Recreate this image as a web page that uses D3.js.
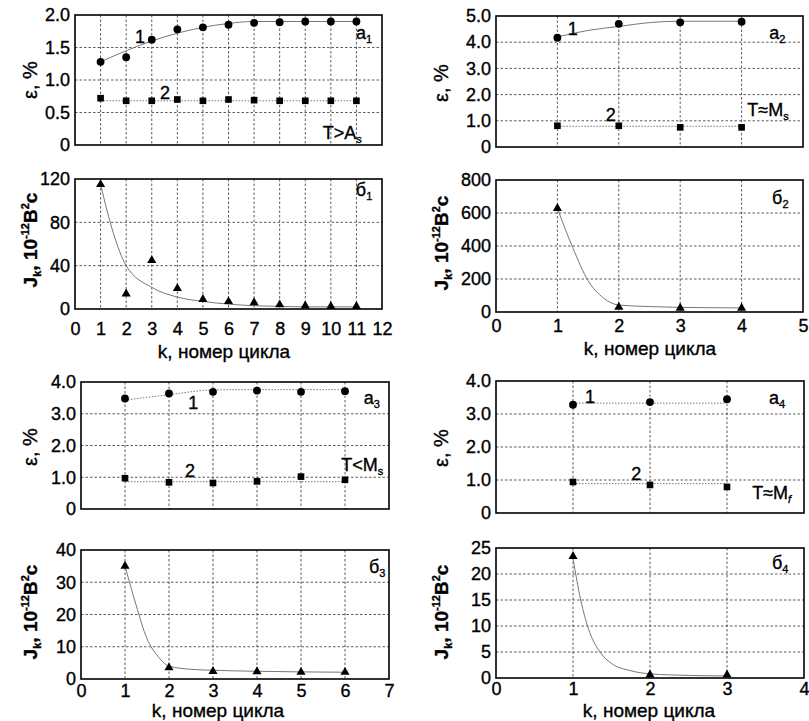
<!DOCTYPE html>
<html>
<head>
<meta charset="utf-8">
<script src="https://cdn.jsdelivr.net/npm/d3@7"></script>
<style>
  body { margin: 0; background: #fff; }
  svg { display: block; }
  text { font-family: "Liberation Sans", Arial, sans-serif; fill: #000; stroke: #000; stroke-width: 0.35px; }
</style>
</head>
<body>
<svg id="chart" width="809" height="721"></svg>
<script>
// ---- panel 1 : T > As ----
const cycles1 = [1, 2, 3, 4, 5, 6, 7, 8, 9, 10, 11];
const eps1Circ = [1.28, 1.35, 1.62, 1.78, 1.81, 1.85, 1.88, 1.89, 1.90, 1.90, 1.90];
const eps1Sq = [0.72, 0.68, 0.68, 0.70, 0.68, 0.70, 0.69, 0.68, 0.68, 0.68, 0.68];
const j1 = [115, 14, 45, 19, 9, 7, 6, 4, 3, 2.5, 2.5];
const fit1CircK = [1, 2, 3, 4, 5, 6, 7, 8, 9, 10, 11];
const fit1CircV = [1.28, 1.45, 1.6, 1.72, 1.81, 1.87, 1.9, 1.9, 1.9, 1.9, 1.9];
const fit1SqK = [1, 11];
const fit1SqV = [0.68, 0.68];
const fit1JK = [1, 1.5, 2, 3, 4, 5, 6, 7, 8, 9, 10, 11];
const fit1JV = [115, 70, 40, 20, 11, 7, 4.5, 3, 2.5, 2, 2, 2];

// ---- panel 2 : T ≈ Ms ----
const cycles2 = [1, 2, 3, 4];
const eps2Circ = [4.17, 4.70, 4.76, 4.78];
const eps2Sq = [0.81, 0.81, 0.75, 0.75];
const j2 = [628, 30, 24, 24];
const fit2CircK = [1, 1.5, 2, 2.5, 3, 4];
const fit2CircV = [4.2, 4.45, 4.6, 4.75, 4.8, 4.8];
const fit2SqK = [1, 4];
const fit2SqV = [0.79, 0.79];
const fit2JK = [1, 1.25, 1.5, 1.75, 2, 2.5, 3, 4];
const fit2JV = [628, 390, 190, 85, 42, 33, 28, 25];

// ---- panel 3 : T < Ms ----
const cycles3 = [1, 2, 3, 4, 5, 6];
const eps3Circ = [3.48, 3.64, 3.69, 3.73, 3.69, 3.71];
const eps3Sq = [0.97, 0.84, 0.82, 0.87, 1.02, 0.92];
const j3 = [35, 3.5, 2.4, 2.3, 2.1, 2.1];
const fit3CircK = [1, 2, 3, 4, 5, 6];
const fit3CircV = [3.43, 3.6, 3.75, 3.76, 3.76, 3.76];
const fit3SqK = [1, 6];
const fit3SqV = [0.86, 0.86];
const fit3JK = [1, 1.25, 1.5, 1.75, 2, 2.5, 3, 4, 5, 6];
const fit3JV = [35, 23, 12.5, 7, 4, 3, 2.7, 2.4, 2.2, 2.1];

// ---- panel 4 : T ≈ Mf ----
const cycles4 = [1, 2, 3];
const eps4Circ = [3.28, 3.36, 3.45];
const eps4Sq = [0.94, 0.85, 0.79];
const j4 = [23.4, 0.6, 0.6];
const fit4CircK = [1, 3];
const fit4CircV = [3.33, 3.33];
const fit4SqK = [1, 3];
const fit4SqV = [0.89, 0.89];
const fit4JK = [1, 1.1, 1.2, 1.35, 1.5, 1.75, 2, 2.5, 3];
const fit4JV = [23, 15, 9.5, 5, 2.8, 1.4, 0.8, 0.5, 0.4];

// tick labels
const epsTicks1 = [0, 0.5, 1, 1.5, 2];
const epsTicks2 = [0, 1, 2, 3, 4, 5];
const epsTicks34 = [0, 1, 2, 3, 4];
const jTicks1 = [0, 40, 80, 120];
const jTicks2 = [0, 200, 400, 600, 800];
const jTicks3 = [0, 10, 20, 30, 40];
const jTicks4 = [0, 5, 10, 15, 20, 25];

const svg = d3.select("#chart");
const zip = (a, b) => a.map((d, i) => [d, b[i]]);
const epsFmt = d => d === 0 ? "0" : d3.format(".1f")(d);

function frame(cfg) {
  const g = svg.append("g");
  const x = d3.scaleLinear().domain(cfg.xDomain).range([cfg.left, cfg.right]);
  const y = d3.scaleLinear().domain(cfg.yDomain).range([cfg.bottom, cfg.top]);

  const xGrid = d3.range(cfg.xDomain[0] + 1, cfg.xDomain[1]);
  const yGrid = cfg.yTicks.slice(1, -1);

  g.append("g").selectAll("line").data(xGrid).join("line")
    .attr("x1", d => x(d)).attr("x2", d => x(d))
    .attr("y1", cfg.top).attr("y2", cfg.bottom)
    .attr("stroke", "#333").attr("stroke-width", 0.8).attr("stroke-dasharray", "2.5,2");
  g.append("g").selectAll("line").data(yGrid).join("line")
    .attr("x1", cfg.left).attr("x2", cfg.right)
    .attr("y1", d => y(d)).attr("y2", d => y(d))
    .attr("stroke", "#333").attr("stroke-width", 0.8).attr("stroke-dasharray", "2.5,2");

  // y tick labels
  const ay = g.append("g").attr("transform", `translate(${cfg.left - 2},0)`)
    .call(d3.axisLeft(y).tickValues(cfg.yTicks).tickSize(0).tickFormat(cfg.yFmt));
  ay.select(".domain").remove();
  ay.selectAll("text").attr("font-size", 18).attr("font-family", "Liberation Sans, Arial, sans-serif");

  if (cfg.xBase) {
    // x tick labels, baseline placed at cfg.xBase
    const ax = g.append("g").attr("transform", `translate(0,${cfg.xBase})`)
      .call(d3.axisBottom(x).tickValues(d3.range(cfg.xDomain[0], cfg.xDomain[1] + 1)).tickSize(0).tickFormat(d3.format("d")));
    ax.select(".domain").remove();
    ax.selectAll("text").attr("y", 0).attr("dy", 0)
      .attr("font-size", 18).attr("font-family", "Liberation Sans, Arial, sans-serif");
  }

  g.append("rect")
    .attr("x", cfg.left).attr("y", cfg.top)
    .attr("width", cfg.right - cfg.left).attr("height", cfg.bottom - cfg.top)
    .attr("fill", "none").attr("stroke", "#000").attr("stroke-width", 1.6);
  return { g, x, y };
}

function fitLine(p, ks, vs, dotted) {
  p.g.append("path")
    .datum(zip(ks, vs))
    .attr("fill", "none")
    .attr("stroke", "#777")
    .attr("stroke-width", 1)
    .attr("stroke-dasharray", dotted ? "1.5,1.5" : null)
    .attr("d", d3.line().x(d => p.x(d[0])).y(d => p.y(d[1])).curve(d3.curveMonotoneX));
}

function markers(p, ks, vs, type, size) {
  p.g.append("g").selectAll("path").data(zip(ks, vs)).join("path")
    .attr("transform", d => `translate(${p.x(d[0])},${p.y(d[1])})`)
    .attr("d", d3.symbol().type(type).size(size))
    .attr("fill", "#000");
}

function label(p, k, v, main, sub, opts = {}) {
  const t = p.g.append("text")
    .attr("x", p.x(k)).attr("y", p.y(v) + 6)
    .attr("text-anchor", "middle")
    .attr("font-size", opts.size || 18);
  t.append("tspan").text(main);
  if (sub) {
    t.append("tspan").attr("font-size", 11).attr("dy", 4)
      .attr("font-style", opts.italicSub ? "italic" : null).text(sub);
  }
}

function jAxisLabel(cx, cy) {
  const t = svg.append("text")
    .attr("transform", `translate(${cx},${cy}) rotate(-90)`)
    .attr("text-anchor", "middle")
    .attr("font-weight", "bold")
    .attr("font-size", 19);
  t.append("tspan").text("J");
  t.append("tspan").attr("font-size", 11).attr("dy", 4).text("k");
  t.append("tspan").attr("dy", -4).text(", 10");
  t.append("tspan").attr("font-size", 11).attr("dy", -8).text("-12");
  t.append("tspan").attr("dy", 8).text("В");
  t.append("tspan").attr("font-size", 11).attr("dy", -8).text("2");
  t.append("tspan").attr("dy", 8).text("с");
}

function epsAxisLabel(cx, cy) {
  svg.append("text")
    .attr("transform", `translate(${cx},${cy}) rotate(-90)`)
    .attr("text-anchor", "middle")
    .attr("font-size", 20)
    .text("ε, %");
}

function kAxisLabel(cx, cy) {
  svg.append("text").attr("x", cx).attr("y", cy)
    .attr("text-anchor", "middle").attr("font-size", 19)
    .text("k, номер цикла");
}

const tri = d3.symbolTriangle, circ = d3.symbolCircle, sq = d3.symbolSquare;

// ===== group 1 =====
let p = frame({ left: 75, right: 382, top: 15, bottom: 145, xDomain: [0, 12], yDomain: [0, 2], yTicks: epsTicks1, yFmt: epsFmt });
fitLine(p, fit1CircK, fit1CircV, false);
fitLine(p, fit1SqK, fit1SqV, true);
markers(p, cycles1, eps1Circ, circ, 48);
markers(p, cycles1, eps1Sq, sq, 44);
label(p, 2.54, 1.66, "1");
label(p, 3.52, 0.8, "2");
label(p, 11.3, 1.72, "а", "1");
label(p, 10.45, 0.18, "T>A", "s");
epsAxisLabel(37, 80);

p = frame({ left: 75, right: 382, top: 179, bottom: 309, xDomain: [0, 12], yDomain: [0, 120], yTicks: jTicks1, yFmt: d3.format("d"), xBase: 335 });
fitLine(p, fit1JK, fit1JV, false);
markers(p, cycles1, j1, tri, 36);
label(p, 11.3, 110, "б", "1");
jAxisLabel(37, 240);
kAxisLabel(224, 358);

// ===== group 2 =====
p = frame({ left: 496, right: 803, top: 16, bottom: 147, xDomain: [0, 5], yDomain: [0, 5], yTicks: epsTicks2, yFmt: epsFmt });
fitLine(p, fit2CircK, fit2CircV, false);
fitLine(p, fit2SqK, fit2SqV, true);
markers(p, cycles2, eps2Circ, circ, 48);
markers(p, cycles2, eps2Sq, sq, 44);
label(p, 1.25, 4.5, "1");
label(p, 1.87, 1.22, "2");
label(p, 4.58, 4.35, "а", "2");
label(p, 4.43, 1.41, "T≈M", "s");
epsAxisLabel(448, 83);

p = frame({ left: 496, right: 803, top: 180, bottom: 312, xDomain: [0, 5], yDomain: [0, 800], yTicks: jTicks2, yFmt: d3.format("d"), xBase: 332 });
fitLine(p, fit2JK, fit2JV, false);
markers(p, cycles2, j2, tri, 36);
label(p, 4.63, 691, "б", "2");
jAxisLabel(448, 243);
kAxisLabel(650, 355);

// ===== group 3 =====
p = frame({ left: 81, right: 389, top: 382, bottom: 509, xDomain: [0, 7], yDomain: [0, 4], yTicks: epsTicks34, yFmt: epsFmt });
fitLine(p, fit3CircK, fit3CircV, true);
fitLine(p, fit3SqK, fit3SqV, true);
markers(p, cycles3, eps3Circ, circ, 48);
markers(p, cycles3, eps3Sq, sq, 44);
label(p, 2.55, 3.34, "1");
label(p, 2.48, 1.2, "2");
label(p, 6.61, 3.5, "а", "3");
label(p, 6.39, 1.39, "T<M", "s");
epsAxisLabel(37, 447);

p = frame({ left: 81, right: 389, top: 550, bottom: 679, xDomain: [0, 7], yDomain: [0, 40], yTicks: jTicks3, yFmt: d3.format("d"), xBase: 697 });
fitLine(p, fit3JK, fit3JV, false);
markers(p, cycles3, j3, tri, 36);
label(p, 6.73, 34.7, "б", "3");
jAxisLabel(37, 612);
kAxisLabel(218, 717);

// ===== group 4 =====
p = frame({ left: 496, right: 804, top: 381, bottom: 513, xDomain: [0, 4], yDomain: [0, 4], yTicks: epsTicks34, yFmt: epsFmt });
fitLine(p, fit4CircK, fit4CircV, true);
fitLine(p, fit4SqK, fit4SqV, true);
markers(p, cycles4, eps4Circ, circ, 48);
markers(p, cycles4, eps4Sq, sq, 44);
label(p, 1.22, 3.52, "1");
label(p, 1.82, 1.18, "2");
label(p, 3.65, 3.48, "а", "4");
label(p, 3.58, 0.61, "T≈M", "f", { italicSub: true });
epsAxisLabel(448, 448);

p = frame({ left: 496, right: 804, top: 548, bottom: 678, xDomain: [0, 4], yDomain: [0, 25], yTicks: jTicks4, yFmt: d3.format("d"), xBase: 695 });
fitLine(p, fit4JK, fit4JV, false);
markers(p, cycles4, j4, tri, 36);
label(p, 3.69, 22.1, "б", "4");
jAxisLabel(448, 612);
kAxisLabel(649, 717);
</script>
</body>
</html>
